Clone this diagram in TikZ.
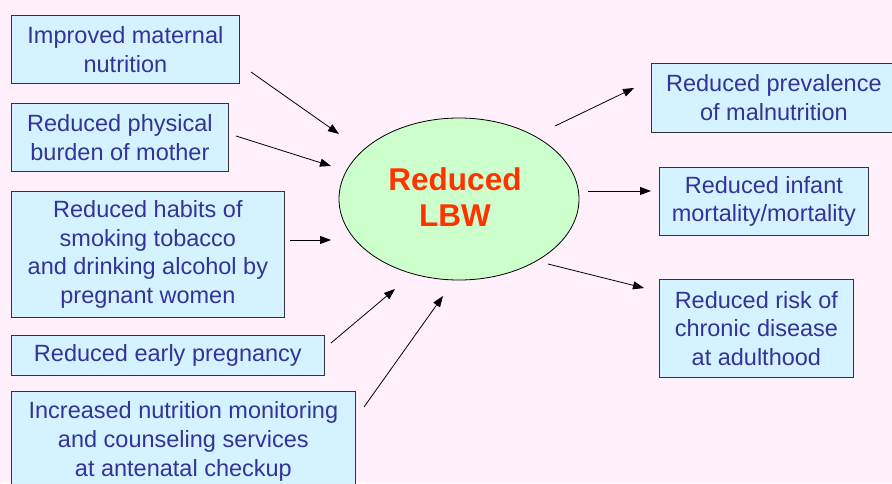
\documentclass[tikz,border=0pt]{standalone}
\usepackage{fontspec}
\setmainfont{Liberation Sans}
\usetikzlibrary{arrows.meta}
\definecolor{bgpink}{HTML}{FFF0FB}
\definecolor{boxfill}{HTML}{D4F2FF}
\definecolor{boxtext}{HTML}{333399}
\definecolor{ellfill}{HTML}{CCFFCC}
\definecolor{lbwred}{HTML}{FF3300}
\tikzset{
  infobox/.style={draw=black!80, line width=0.8pt, fill=boxfill, text=boxtext, align=center,
    inner sep=0pt, font=\fontsize{23.5}{28.8}\selectfont, anchor=north west},
  conn/.style={line width=0.8pt, -{Triangle[length=11pt,width=8pt]}},
}
\begin{document}
\begin{tikzpicture}[x=1pt,y=-1pt]
\fill[bgpink] (0,0) rectangle (892,483);
\useasboundingbox (0,0) rectangle (892,483);
\clip (0,0) rectangle (892,483);
% left boxes
\node[infobox, minimum width=228pt, minimum height=68pt] (b1) at (11,15) {Improved maternal\\nutrition};
\node[infobox, minimum width=217pt, minimum height=68pt] (b2) at (11,103) {Reduced physical\\burden of mother};
\node[infobox, minimum width=273pt, minimum height=126pt] (b3) at (11,191) {Reduced habits of\\smoking tobacco\\and drinking alcohol by\\pregnant women};
\node[infobox, minimum width=313pt, minimum height=40pt] (b4) at (11,335) {Reduced early pregnancy};
\node[infobox, minimum width=344pt, minimum height=100pt] (b5) at (11,391) {Increased nutrition monitoring\\and counseling services\\at antenatal checkup};
% ellipse
\fill[ellfill] (459,199) ellipse [x radius=120, y radius=81];
\draw[line width=0.8pt] (459,199) ellipse [x radius=120, y radius=81];
\node[text=lbwred, align=center, font=\fontsize{31.5}{36}\selectfont\bfseries] (lbw) at (455,197) {Reduced\\LBW};
% right boxes
\node[infobox, minimum width=245pt, minimum height=69pt] (r1) at (651,63) {Reduced prevalence\\of malnutrition};
\node[infobox, minimum width=209pt, minimum height=68pt] (r2) at (659,167) {Reduced infant\\mortality/mortality};
\node[infobox, minimum width=194pt, minimum height=98pt] (r3) at (659,279) {Reduced risk of\\chronic disease\\at adulthood};
% arrow endpoints
\coordinate (s1) at (251,72);  \coordinate (e1) at (339,134);
\coordinate (s2) at (236,136); \coordinate (e2) at (331,166);
\coordinate (s3) at (290,240); \coordinate (e3) at (331,240);
\coordinate (s4) at (331,343); \coordinate (e4) at (395,289);
\coordinate (s5) at (364,407); \coordinate (e5) at (443,296);
\coordinate (s6) at (555,126); \coordinate (e6) at (634,88);
\coordinate (s7) at (588,191); \coordinate (e7) at (651,191);
\coordinate (s8) at (548,264); \coordinate (e8) at (644,288);
\foreach \i in {1,...,8} { \draw[conn] (s\i) -- (e\i); }
\end{tikzpicture}
\end{document}
